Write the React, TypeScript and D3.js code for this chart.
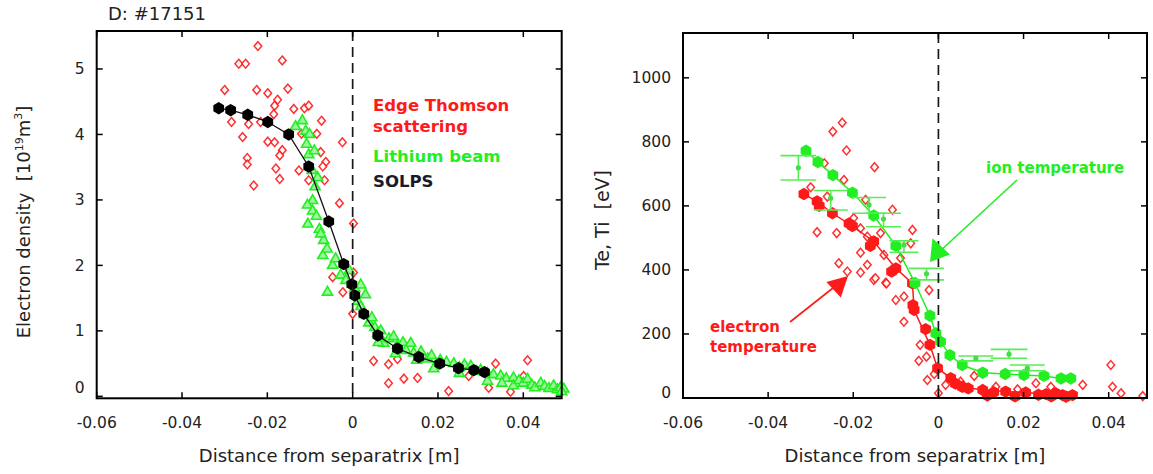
import React from 'react';
import * as d3 from 'd3';

// ---------- data: left panel (electron density, 10^19 m^-3) ----------
const xTickVals = [-0.06, -0.04, -0.02, 0, 0.02, 0.04];
const xTickLabels = ['-0.06', '-0.04', '-0.02', '0', '0.02', '0.04'];
const nTickVals = [0, 1, 2, 3, 4, 5];
const tTickVals = [0, 200, 400, 600, 800, 1000];

const solpsX = [-0.0314, -0.0286, -0.0246, -0.0199, -0.015, -0.0103, -0.0056, -0.0021, -0.0002, 0.0005, 0.0026, 0.0059, 0.0105, 0.0155, 0.0204, 0.0248, 0.0284, 0.0309];
const solpsN = [4.40, 4.37, 4.30, 4.19, 4.00, 3.51, 2.67, 2.02, 1.71, 1.54, 1.26, 0.93, 0.73, 0.60, 0.50, 0.43, 0.40, 0.37];

const liX = [-0.0134, -0.0118, -0.011, -0.0101, -0.0108, -0.0103, -0.009, -0.0082, -0.0095, -0.0088, -0.0094, -0.0106, -0.0094, -0.0105, -0.0085, -0.0078, -0.0068, -0.0075, -0.007, -0.006, -0.0047, -0.0059, -0.004, -0.0028, -0.0016, -0.0008, 0.0005, 0.0019, 0.003, 0.0012, 0.0019, 0.0028, 0.0038, 0.0045, 0.0052, 0.0059, 0.0066, 0.0073, 0.0085, 0.0096, 0.0105, 0.0118, 0.0136, 0.0143, 0.0125, 0.016, 0.0176, 0.019, 0.0185, 0.0205, 0.022, 0.0237, 0.025, 0.0262, 0.0277, 0.029, 0.03, 0.0316, 0.0316, 0.033, 0.0347, 0.036, 0.0377, 0.0377, 0.039, 0.04, 0.041, 0.042, 0.0427, 0.0441, 0.045, 0.046, 0.0471, 0.048, 0.0487, 0.0495, 0.049, 0.035, 0.025, 0.01, 0.006, 0.015];
const liN = [4.12, 4.21, 4.05, 4.00, 3.85, 3.69, 3.75, 3.34, 3.45, 3.20, 2.99, 2.92, 2.83, 2.63, 2.75, 2.55, 2.38, 2.48, 2.15, 2.25, 2.00, 1.59, 2.10, 1.85, 1.77, 1.92, 1.65, 1.70, 1.55, 1.45, 1.37, 1.25, 1.12, 1.20, 1.05, 0.96, 1.00, 0.81, 0.88, 0.91, 0.78, 0.82, 0.81, 0.66, 0.70, 0.68, 0.57, 0.42, 0.62, 0.55, 0.52, 0.50, 0.44, 0.48, 0.46, 0.38, 0.40, 0.35, 0.23, 0.33, 0.31, 0.27, 0.28, 0.16, 0.24, 0.20, 0.26, 0.17, 0.13, 0.20, 0.15, 0.12, 0.16, 0.10, 0.13, 0.11, 0.07, 0.20, 0.35, 0.65, 0.82, 0.55];

const tsNX = [-0.0222, -0.0267, -0.0251, -0.0165, -0.03, -0.0225, -0.0199, -0.0152, -0.0176, -0.0183, -0.0138, -0.0113, -0.0103, -0.0073, -0.0284, -0.0244, -0.0216, -0.0185, -0.0258, -0.0199, -0.0183, -0.0165, -0.0171, -0.012, -0.0084, -0.0024, -0.0075, -0.0063, -0.0247, -0.0247, -0.018, -0.0126, -0.0171, -0.0232, -0.0066, -0.0103, -0.007, -0.0031, 0.0002, -0.0047, -0.0023, 0.0002, 0.0, 0.0049, 0.0084, 0.0105, 0.0084, 0.012, 0.0152, 0.0225, 0.0335, 0.041, 0.037, 0.0401, 0.0272, 0.0319];
const tsNN = [5.35, 5.08, 5.08, 5.13, 4.68, 4.68, 4.63, 4.70, 4.53, 4.44, 4.39, 4.40, 4.44, 4.21, 4.19, 4.16, 4.19, 4.31, 3.96, 3.89, 3.88, 3.76, 3.68, 4.01, 4.01, 3.88, 3.73, 3.58, 3.64, 3.54, 3.48, 3.45, 3.32, 3.22, 3.30, 3.30, 3.51, 2.95, 2.64, 1.82, 1.59, 1.89, 1.26, 0.54, 0.49, 0.57, 0.20, 0.27, 0.28, 0.08, 0.50, 0.55, 0.07, 0.31, 0.31, 0.13];

// ---------- data: right panel (temperatures, eV) ----------
const teX = [-0.0316, -0.0285, -0.0249, -0.0202, -0.0152, -0.0100, -0.0061, -0.0057, -0.0020, -0.0002, 0.0029, 0.0056, 0.0104, 0.0158, 0.0205, 0.0253, 0.0292, 0.0315];
const teT = [637, 614, 577, 537, 489, 405, 358, 275, 166, 93, 62, 35, 25, 20, 17, 12, 9, 9];
const teExtraX = [0.004, 0.007, 0.0115, 0.013, 0.018, 0.0235, 0.0265, 0.0275, 0.03, -0.011, -0.006, -0.003, -0.016, -0.021, -0.028];
const teExtraT = [45, 30, 8, 18, 5, 10, 5, 15, 4, 395, 290, 215, 475, 545, 600];

const tiX = [-0.0311, -0.0283, -0.0248, -0.0202, -0.0152, -0.0100, -0.0055, -0.0020, -0.0006, 0.0005, 0.0027, 0.0056, 0.0104, 0.0157, 0.0201, 0.0248, 0.0288, 0.0311];
const tiT = [772, 737, 696, 641, 570, 475, 359, 257, 202, 176, 134, 103, 79, 75, 72, 69, 61, 61];

const tsTX = [-0.0248, -0.0226, -0.0216, -0.015, -0.0268, -0.03, -0.0222, -0.0261, -0.0285, -0.0239, -0.0171, -0.0108, -0.0183, -0.0167, -0.0199, -0.0136, -0.0159, -0.0128, -0.0183, -0.0234, -0.0214, -0.0183, -0.0167, -0.0152, -0.0124, -0.0061, -0.0065, -0.0022, -0.0089, -0.0148, -0.0122, -0.0100, -0.0081, -0.0081, -0.0043, -0.0046, -0.0028, -0.0026, -0.0010, 0.0017, 0.0052, 0.0084, 0.0135, 0.0186, 0.0229, 0.0264, 0.0339, 0.0405, 0.0409, 0.0429, 0.0480, 0.0];
const tsTT = [832, 860, 773, 721, 733, 658, 681, 629, 518, 515, 619, 588, 530, 504, 562, 515, 473, 447, 454, 421, 395, 392, 416, 369, 360, 525, 483, 337, 437, 374, 358, 306, 317, 238, 166, 116, 129, 56, 75, 41, 51, 69, 35, 27, 46, 35, 41, 103, 35, 15, 6, 15];

const cxX = [-0.0329, -0.0253, -0.0163, -0.0129, -0.0081, -0.0028, 0.0088, 0.0166, 0.0209];
const cxT = [719, 624, 603, 559, 478, 388, 124, 137, 93];
const cxLo = [681, 587, 577, 535, 455, 369, 116, 124, 85];
const cxHi = [757, 648, 626, 577, 491, 405, 131, 152, 103];
const cxDx = [0.0042, 0.004, 0.004, 0.0041, 0.0034, 0.0041, 0.0041, 0.0043, 0.0041];

const FONT = "'DejaVu Sans', sans-serif";
const RED = '#ff1a1a';
const GREEN = '#22ee22';

function hexPath(r: number) {
  const pts = d3.range(6).map((k) => {
    const a = (Math.PI / 3) * k + Math.PI / 6;
    return [r * Math.cos(a), r * Math.sin(a)];
  });
  return 'M' + pts.map((p) => p[0].toFixed(2) + ',' + p[1].toFixed(2)).join('L') + 'Z';
}
const HEX = hexPath(6.2);
const DIAMOND = 'M0,-4.4L3.8,0L0,4.4L-3.8,0Z';
const TRI = d3.symbol().type(d3.symbolTriangle).size(44)() as string;

function Frame({ x, y, yTicks, yLabels, zeroNudge }: any) {
  const [x0, x1] = x.range();
  const [y0, y1] = y.range();
  const tl = 6;
  return (
    <g>
      <line x1={x(0)} x2={x(0)} y1={y1} y2={y0} stroke="#1a1a1a" strokeWidth={1.7} strokeDasharray="10,6" />
      {xTickVals.map((t, i) => (
        <g key={'xt' + i}>
          <line x1={x(t)} x2={x(t)} y1={y0} y2={y0 - tl} stroke="#000" strokeWidth={1.5} />
          <line x1={x(t)} x2={x(t)} y1={y1} y2={y1 + tl} stroke="#000" strokeWidth={1.5} />
          <text x={x(t)} y={y0 + 30} textAnchor="middle" fontFamily={FONT} fontSize={15.5} fill="#222">{xTickLabels[i]}</text>
        </g>
      ))}
      {yTicks.map((t: number, i: number) => (
        <g key={'yt' + i}>
          <line x1={x0} x2={x0 + tl} y1={y(t)} y2={y(t)} stroke="#000" strokeWidth={1.5} />
          <line x1={x1} x2={x1 - tl} y1={y(t)} y2={y(t)} stroke="#000" strokeWidth={1.5} />
          <text x={x0 - 12} y={y(t) + 5.5 - (t === 0 ? zeroNudge : 0)} textAnchor="end" fontFamily={FONT} fontSize={15.5} fill="#222">{yLabels[i]}</text>
        </g>
      ))}
      <rect x={x0} y={y1} width={x1 - x0} height={y0 - y1} fill="none" stroke="#000" strokeWidth={2} />
      <text x={(x0 + x1) / 2} y={462} textAnchor="middle" fontFamily={FONT} fontSize={18} fill="#222">Distance from separatrix [m]</text>
    </g>
  );
}

export default function App() {
  const xL = d3.scaleLinear().domain([-0.06, 0.049]).range([96.7, 561.7]);
  const yL = d3.scaleLinear().domain([-0.03, 5.58]).range([398.3, 31]);
  const xR = d3.scaleLinear().domain([-0.06, 0.049]).range([683, 1147]);
  const yR = d3.scaleLinear().domain([0, 1140]).range([398, 33]);

  const solpsLine = d3.line<number>().x((_, i) => xL(solpsX[i])).y((d) => yL(d))(solpsN) as string;
  const teLine = d3.line<number>().x((_, i) => xR(teX[i])).y((d) => yR(d))(teT) as string;
  const tiLine = d3.line<number>().x((_, i) => xR(tiX[i])).y((d) => yR(d))(tiT) as string;

  return (
    <svg width={1153} height={474} style={{ position: 'absolute', left: 0, top: 0, background: '#fff' }}>
      <rect width={1153} height={474} fill="#fff" />
      <text x={108} y={20} fontFamily={FONT} fontSize={18} fill="#222">D: #17151</text>

      {/* Left panel */}
      <g>
        {tsNX.map((v, i) => (
          <path key={'tn' + i} d={DIAMOND} transform={`translate(${xL(v)},${yL(tsNN[i])})`} fill="#fff" stroke={RED} strokeWidth={1.5} opacity={0.9} />
        ))}
        {liX.map((v, i) => (
          <path key={'li' + i} d={TRI} transform={`translate(${xL(v)},${yL(liN[i])})`} fill="#9cf79c" stroke={GREEN} strokeWidth={1.6} />
        ))}
        <path d={solpsLine} fill="none" stroke="#111" strokeWidth={1.3} />
        {solpsX.map((v, i) => (
          <path key={'so' + i} d={HEX} transform={`translate(${xL(v)},${yL(solpsN[i])})`} fill="#000" />
        ))}
        <Frame x={xL} y={yL} yTicks={nTickVals} yLabels={nTickVals.map(String)} zeroNudge={9} />
        <text transform="translate(30,222) rotate(-90)" textAnchor="middle" fontFamily={FONT} fontSize={18} fill="#222">
          Electron density{'\u00a0\u00a0'}[10<tspan dy={-7} fontSize={11}>19</tspan><tspan dy={7}>m</tspan><tspan dy={-8} fontSize={11}>3</tspan><tspan dy={8}>]</tspan>
        </text>
        <g fontFamily={FONT} fontWeight="bold" fontSize={16.5}>
          <text x={373} y={111} fill={RED}>Edge Thomson</text>
          <text x={373} y={131.5} fill={RED}>scattering</text>
          <text x={373} y={161.5} fill={GREEN}>Lithium beam</text>
          <text x={373} y={186.5} fill="#1a1a2a">SOLPS</text>
        </g>
      </g>

      {/* Right panel */}
      <g>
        {tsTX.map((v, i) => (
          <path key={'tt' + i} d={DIAMOND} transform={`translate(${xR(v)},${yR(tsTT[i])})`} fill="#fff" stroke={RED} strokeWidth={1.5} opacity={0.9} />
        ))}
        {teExtraX.map((v, i) => (
          <path key={'tex' + i} d={HEX} transform={`translate(${xR(v)},${yR(teExtraT[i])})`} fill={RED} />
        ))}
        <path d={teLine} fill="none" stroke={RED} strokeWidth={1.5} />
        {teX.map((v, i) => (
          <path key={'te' + i} d={HEX} transform={`translate(${xR(v)},${yR(teT[i])})`} fill={RED} />
        ))}
        <path d={tiLine} fill="none" stroke={GREEN} strokeWidth={1.5} />
        {tiX.map((v, i) => (
          <path key={'ti' + i} d={HEX} transform={`translate(${xR(v)},${yR(tiT[i])})`} fill={GREEN} />
        ))}
        {cxX.map((v, i) => (
          <g key={'cx' + i} stroke="#55ee55" strokeWidth={1.6}>
            <line x1={xR(v)} x2={xR(v)} y1={yR(cxLo[i])} y2={yR(cxHi[i])} />
            <line x1={xR(v - cxDx[i])} x2={xR(v + cxDx[i])} y1={yR(cxLo[i])} y2={yR(cxLo[i])} />
            <line x1={xR(v - cxDx[i])} x2={xR(v + cxDx[i])} y1={yR(cxHi[i])} y2={yR(cxHi[i])} />
            <circle cx={xR(v)} cy={yR(cxT[i])} r={2.6} fill="#44dd44" stroke="none" />
          </g>
        ))}
        <Frame x={xR} y={yR} yTicks={tTickVals} yLabels={tTickVals.map(String)} zeroNudge={6} />
        <text transform="translate(609,220) rotate(-90)" textAnchor="middle" fontFamily={FONT} fontSize={19} fill="#222">Te, Ti{'\u00a0\u00a0'}[eV]</text>

        {/* annotations */}
        <text x={986} y={172.5} fontFamily={FONT} fontWeight="bold" fontSize={15} fill={GREEN}>ion temperature</text>
        <line x1={1017} y1={180} x2={938} y2={253} stroke={GREEN} strokeWidth={1.6} />
        <path d="M930,262 L932,243 L946,256 Z" transform="translate(930,262) scale(1.25) translate(-930,-262)" fill={GREEN} />
        <text x={710} y={331.5} fontFamily={FONT} fontWeight="bold" fontSize={15} fill={RED}>electron</text>
        <text x={710} y={351.5} fontFamily={FONT} fontWeight="bold" fontSize={15} fill={RED}>temperature</text>
        <line x1={790} y1={322} x2={838} y2={284} stroke={RED} strokeWidth={1.6} />
        <path d="M848,276 L830,281 L842,294 Z" transform="translate(848,276) scale(1.2) translate(-848,-276)" fill={RED} />
      </g>
    </svg>
  );
}
